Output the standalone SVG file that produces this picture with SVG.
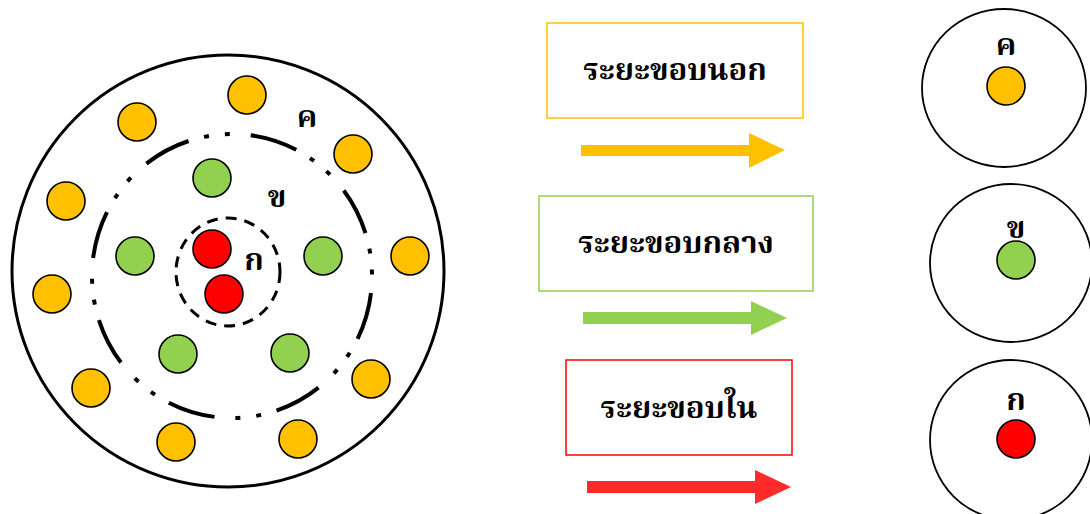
<svg xmlns="http://www.w3.org/2000/svg" width="1090" height="514" viewBox="0 0 1090 514">
<style>
.dot{stroke:#000;stroke-width:1.6}
.o{fill:#FFC000}
.g{fill:#92D050}
.r{fill:#FF0000}
.lbl{font-family:"Noto Serif Thai","Noto Sans Thai Looped","Liberation Serif","Noto Sans Thai",serif;font-weight:bold;fill:#000;text-anchor:middle}
.big{font-size:31px}
.sm{font-size:31px}
.ring{fill:#fff;stroke:#000;stroke-width:1.8}
</style>
<rect width="1090" height="514" fill="#fff"/>
<g id="atom">
<circle cx="228" cy="271" r="216" fill="#fff" stroke="#000" stroke-width="3"/>
<ellipse cx="232" cy="276" rx="140" ry="142" fill="none" stroke="#000" stroke-width="4" stroke-dasharray="48 16 5 16 5 21" stroke-dashoffset="-17"/>
<ellipse cx="228" cy="272" rx="52" ry="54" fill="none" stroke="#000" stroke-width="3" stroke-dasharray="11 8"/>
<circle class="dot r" cx="212" cy="249" r="19"/>
<circle class="dot r" cx="224" cy="294" r="19"/>
<circle class="dot g" cx="212" cy="178" r="19"/>
<circle class="dot g" cx="135" cy="256" r="19"/>
<circle class="dot g" cx="323" cy="256" r="19"/>
<circle class="dot g" cx="178" cy="354" r="19"/>
<circle class="dot g" cx="290" cy="353" r="19"/>
<circle class="dot o" cx="247" cy="95" r="19"/>
<circle class="dot o" cx="137" cy="122" r="19"/>
<circle class="dot o" cx="353" cy="154" r="19"/>
<circle class="dot o" cx="66" cy="201" r="19"/>
<circle class="dot o" cx="410" cy="256" r="19"/>
<circle class="dot o" cx="52" cy="294" r="19"/>
<circle class="dot o" cx="91" cy="388" r="19"/>
<circle class="dot o" cx="371" cy="379" r="19"/>
<circle class="dot o" cx="176" cy="442" r="19"/>
<circle class="dot o" cx="298" cy="439" r="19"/>
<text class="lbl sm" x="307" y="127">ค</text>
<text class="lbl sm" x="277" y="207">ข</text>
<text class="lbl sm" x="254" y="270">ก</text>
</g>
<g id="box-outer">
<rect x="547" y="23" width="256" height="95" fill="#fff" stroke="#FFC000" stroke-width="1.5"/>
<text class="lbl big" x="675" y="80">ระยะขอบนอก</text>
</g>
<g id="box-middle">
<rect x="539" y="196" width="274" height="95" fill="#fff" stroke="#92D050" stroke-width="1.5"/>
<text class="lbl big" x="676" y="253">ระยะขอบกลาง</text>
</g>
<g id="box-inner">
<rect x="566" y="360" width="226" height="95" fill="#fff" stroke="#FF0000" stroke-width="1.5"/>
<text class="lbl big" x="679" y="418">ระยะขอบใน</text>
</g>
<g id="connectors">
<polygon fill="#FFC000" points="581,145 749,145 749,133 785,150 749,168 749,156 581,156"/>
<polygon fill="#92D050" points="583,312 751,312 751,301 787,318 751,335 751,324 583,324"/>
<polygon fill="#FF2A2A" points="587,481 755,481 755,470 791,487 755,504 755,493 587,493"/>
</g>
<g id="shell-k">
<ellipse class="ring" cx="1004" cy="88" rx="82" ry="79"/>
<circle class="dot o" cx="1006" cy="86" r="19"/>
<text class="lbl sm" x="1006" y="55">ค</text>
</g>
<g id="shell-kh">
<ellipse class="ring" cx="1011" cy="263" rx="81" ry="79"/>
<circle class="dot g" cx="1016" cy="260" r="19"/>
<text class="lbl sm" x="1016" y="238">ข</text>
</g>
<g id="shell-g">
<ellipse class="ring" cx="1011" cy="440" rx="81" ry="80"/>
<circle class="dot r" cx="1016" cy="439" r="19"/>
<text class="lbl sm" x="1016" y="410">ก</text>
</g>
</svg>
